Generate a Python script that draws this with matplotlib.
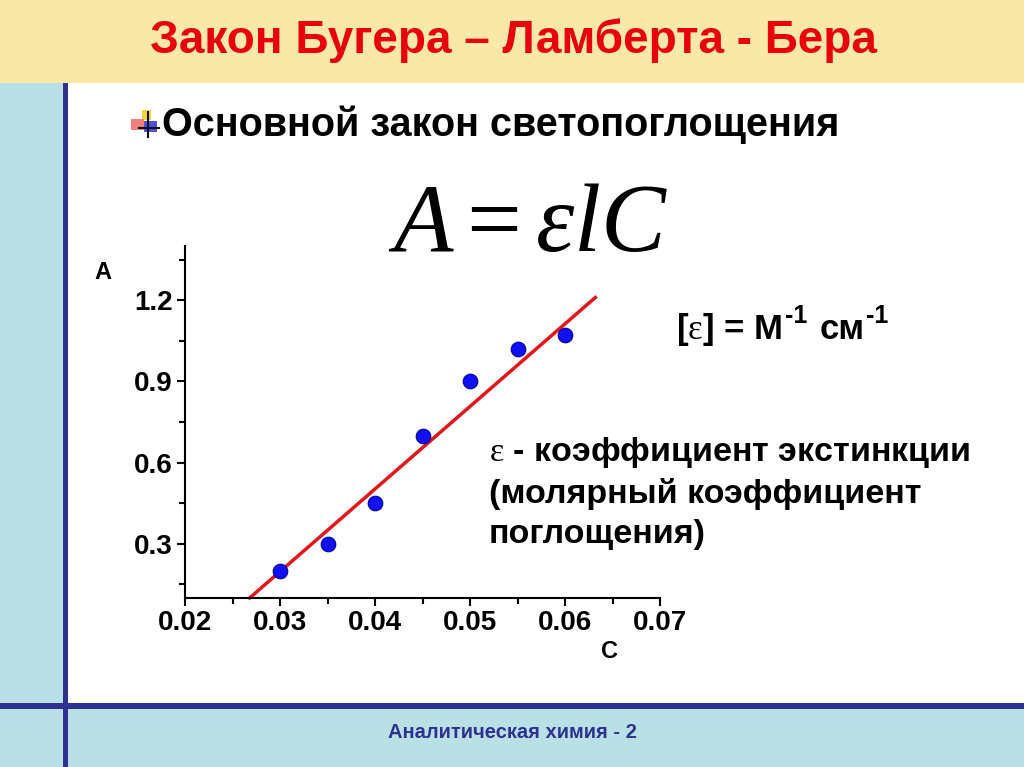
import matplotlib
matplotlib.use('Agg')
import matplotlib.pyplot as plt
from matplotlib.patches import Rectangle
from matplotlib.lines import Line2D
from matplotlib.ticker import FixedLocator

# данные графика
conc = [0.030, 0.035, 0.040, 0.045, 0.050, 0.055, 0.060]
absorb = [0.20, 0.30, 0.45, 0.70, 0.90, 1.02, 1.07]
fit_c = [0.0268, 0.0632]
fit_a = [0.10, 1.21]
x_ticks = [0.02, 0.03, 0.04, 0.05, 0.06, 0.07]
x_minor = [0.025, 0.035, 0.045, 0.055, 0.065]
y_ticks = [0.3, 0.6, 0.9, 1.2]
y_minor = [0.15, 0.45, 0.75, 1.05, 1.35]

title = 'Закон Бугера – Ламберта - Бера'
subtitle = 'Основной закон светопоглощения'
footer = 'Аналитическая химия - 2'
units = [(r'[$\mathrm{\varepsilon}$] = М', False), ('-1', True),
         ('см', False), ('-1', True)]
desc_lines = [r'$\mathrm{\varepsilon}$ - коэффициент экстинкции',
              '(молярный коэффициент',
              'поглощения)']

plt.rcParams['font.family'] = ['Liberation Sans', 'DejaVu Sans']
plt.rcParams['mathtext.fontset'] = 'custom'
plt.rcParams['mathtext.rm'] = 'Liberation Serif'
plt.rcParams['mathtext.it'] = 'Liberation Serif:italic'
plt.rcParams['mathtext.bf'] = 'Liberation Sans:bold'

W, H = 1024, 767


def fx(px):
    return px / W


def fy(py):
    return 1 - py / H


def rect(x0, y0, x1, y1, color, z=0):
    # прямоугольник в пикселях (верхний левый угол -> нижний правый)
    fig.add_artist(Rectangle((fx(x0), fy(y1)), fx(x1) - fx(x0), fy(y0) - fy(y1),
                             transform=fig.transFigure, facecolor=color,
                             edgecolor='none', zorder=z))


fig = plt.figure(figsize=(10.24, 7.67), dpi=100)
fig.patch.set_facecolor('white')
renderer = fig.canvas.get_renderer()

# фон слайда
light_blue = '#B9E0E4'
navy = '#2E3192'
rect(0, 0, 1024, 83, '#FAE8A8')
rect(0, 83, 64, 767, light_blue)
rect(0, 708, 1024, 767, light_blue)
rect(0, 703, 1024, 709, navy, 1)
rect(63, 83, 68, 767, navy, 1)

fig.text(fx(513), fy(41), title, color='#E8000B', fontsize=33, fontweight='bold',
         ha='center', va='center')
fig.text(fx(512), fy(733), footer, color=navy, fontsize=14.5, fontweight='bold',
         ha='center', va='center')

# маркер пункта
rect(142, 110, 151, 120, '#F5D33A', 2)
rect(131, 119, 144, 130, '#F08080', 2)
rect(144, 121, 157, 132, '#5050D8', 2)
fig.add_artist(Line2D([fx(148), fx(148)], [fy(112), fy(137)], transform=fig.transFigure,
                      color='#111111', lw=1.5, zorder=3))
fig.add_artist(Line2D([fx(139), fx(159)], [fy(128), fy(128)], transform=fig.transFigure,
                      color='#111111', lw=1.5, zorder=3))

fig.text(fx(162), fy(125), subtitle, fontsize=28.5, fontweight='bold', ha='left', va='center')

# формула
fig.text(fx(528), fy(226), r'$A = \varepsilon lC$', fontsize=70, ha='center', va='center')

# единицы измерения: куски текста с верхними индексами
x_cur = 676
gaps = [3, 12, 2, 0]
for (piece, sup), gap in zip(units, gaps):
    t = fig.text(fx(x_cur), fy(323 if sup else 339), piece,
                 fontsize=18 if sup else 25, fontweight='bold',
                 ha='left', va='baseline')
    x_cur = t.get_window_extent(renderer).x1 + gap

for i, line in enumerate(desc_lines):
    fig.text(fx(489), fy(453 + 41 * i), line, fontsize=24.5, fontweight='bold',
             ha='left', va='center')

# график
ax = fig.add_axes([fx(185), fy(598), fx(660) - fx(185), fy(246) - fy(598)])
ax.set_facecolor('none')
ax.plot(fit_c, fit_a, color='#E2161B', lw=2.5, zorder=2, clip_on=False)
ax.scatter(conc, absorb, s=110, color='#1010F0', edgecolor='#0000A0', lw=0.8, zorder=3)
ax.set_xlim(0.02, 0.07)
ax.set_ylim(0.1, 1.4)
ax.xaxis.set_major_locator(FixedLocator(x_ticks))
ax.xaxis.set_minor_locator(FixedLocator(x_minor))
ax.yaxis.set_major_locator(FixedLocator(y_ticks))
ax.yaxis.set_minor_locator(FixedLocator(y_minor))
ax.set_xticklabels(['%.2f' % v for v in x_ticks])
ax.set_yticklabels(['%.1f' % v for v in y_ticks])
for side in ['top', 'right']:
    ax.spines[side].set_visible(False)
for side in ['left', 'bottom']:
    ax.spines[side].set_linewidth(1.5)
ax.tick_params(which='major', direction='out', length=6, width=1.5, labelsize=20, pad=3)
ax.tick_params(which='minor', direction='out', length=4, width=1.5)
for lbl in ax.get_xticklabels() + ax.get_yticklabels():
    lbl.set_fontweight('bold')

fig.text(fx(103), fy(272), 'A', fontsize=17, fontweight='bold', ha='center', va='center')
fig.text(fx(610), fy(652), 'C', fontsize=17, fontweight='bold', ha='center', va='center')

fig.savefig('out.png', dpi=100)
